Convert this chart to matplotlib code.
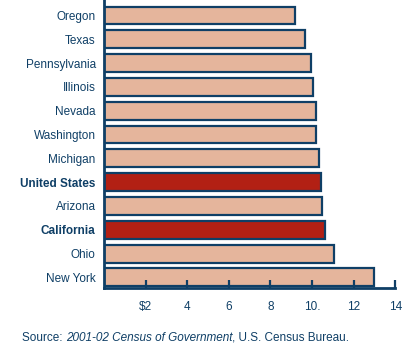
import matplotlib.pyplot as plt
from matplotlib.transforms import offset_copy

states = ['Oregon', 'Texas', 'Pennsylvania', 'Illinois', 'Nevada', 'Washington',
          'Michigan', 'United States', 'Arizona', 'California', 'Ohio', 'New York']
values = [9.18, 9.66, 9.95, 10.05, 10.19, 10.19, 10.34, 10.43, 10.48, 10.63, 11.06, 12.98]
highlight = ['United States', 'California']
tick_vals = [2, 4, 6, 8, 10, 12, 14]
tick_text = ['$2', '4', '6', '8', '10.', '12', '14']

navy = '#0f3f66'
peach = '#e5b59c'
red = '#b22014'

plt.rcParams['font.family'] = ['Liberation Sans', 'DejaVu Sans']

fig = plt.figure(figsize=(4.16, 3.57), dpi=100)
ax = fig.add_axes([0.25, 0.193, 0.70, 0.807])

cols = [red if s in highlight else peach for s in states]
ypos = list(range(len(states)))
ax.barh(ypos, values, height=0.75, color=cols, edgecolor=navy, linewidth=1.6)

ax.set_xlim(0, 14)
ax.set_ylim(11.45, -0.65)
ax.set_yticks(ypos)
ax.set_yticklabels(states)
for lab in ax.get_yticklabels():
    lab.set_color(navy)
    lab.set_fontsize(8.5)
    if lab.get_text() in highlight:
        lab.set_fontweight('bold')
ax.tick_params(axis='y', length=0, pad=6)

ax.set_xticks(tick_vals)
ax.set_xticklabels(tick_text, fontsize=8.5, color=navy)
ax.tick_params(axis='x', direction='in', length=6, width=1.6, color=navy, pad=9)

for side in ['top', 'right']:
    ax.spines[side].set_visible(False)
for side in ['left', 'bottom']:
    ax.spines[side].set_color(navy)
    ax.spines[side].set_linewidth(2)

# source line, pieces placed one after another
renderer = fig.canvas.get_renderer()
parts = [('Source: ', 'normal'), ('2001-02 Census of Government', 'italic'),
         (', U.S. Census Bureau.', 'normal')]
x0 = 22
for txt, st in parts:
    t = fig.text(x0 / 416, 0.045, txt, fontsize=8.5, color=navy, style=st)
    bb = t.get_window_extent(renderer)
    x0 = bb.x1

fig.savefig('out.png', dpi=100)
